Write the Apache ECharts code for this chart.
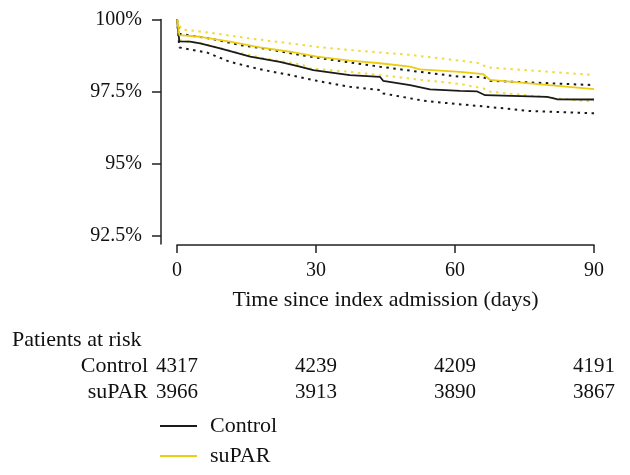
<!DOCTYPE html>
<html>
<head>
<meta charset="utf-8">
<script src="https://cdn.jsdelivr.net/npm/echarts@6/dist/echarts.min.js"></script>
<style>
  html, body { margin: 0; padding: 0; background: #fff; }
  #chart { width: 630px; height: 475px; }
</style>
</head>
<body>
<div id="chart"></div>
<script>
// Kaplan-Meier curves: [day, survival %]
const controlLine = [[0,100],[0.5,99.24],[2.8,99.23],[5,99.17],[9.3,99.0],[15.8,98.71],[22.2,98.53],[26.5,98.36],[29.4,98.24],[37.3,98.07],[43.8,98.01],[44.5,97.87],[50.3,97.72],[54.6,97.57],[61.1,97.52],[64.8,97.5],[66.5,97.37],[79.9,97.31],[82,97.23],[90,97.22]]
const controlLower = [[0,100],[0.5,99.03],[6.5,98.85],[11.4,98.53],[17.9,98.27],[24.4,98.07],[30.2,97.87],[37.3,97.66],[43.8,97.55],[44.5,97.43],[52.4,97.2],[55.3,97.14],[66.9,96.97],[76.2,96.82],[90,96.74]]
const controlUpper = [[0,100],[0.6,99.5],[7.1,99.34],[13.6,99.11],[20.1,98.96],[26.5,98.77],[30.4,98.67],[37.3,98.51],[43.8,98.36],[52.4,98.18],[61.1,98.01],[66.1,98.0],[67.6,97.87],[90,97.72]]
const suparLine = [[0,100],[0.5,99.46],[5,99.4],[11.4,99.23],[17.9,99.03],[24.4,98.88],[30.2,98.71],[37.3,98.57],[43.8,98.48],[50.3,98.36],[52.4,98.27],[61.1,98.18],[66.1,98.1],[67.6,97.9],[90,97.58]]
const suparUpper = [[0,100],[0.9,99.66],[7.1,99.54],[15.8,99.34],[24.4,99.17],[30.2,99.05],[37.3,98.94],[50.3,98.77],[61.1,98.57],[65.4,98.48],[66.9,98.34],[90,98.07]]
const suparLower = [[0,100],[0.5,99.28],[5,99.18],[11.9,98.9],[18.8,98.65],[27.2,98.42],[28.7,98.3],[37.3,98.18],[50.3,97.95],[61.1,97.76],[66.1,97.61],[67.6,97.49],[90,97.14]]

const yTicks = [92.5, 95, 97.5, 100]
const riskDays = [0, 30, 60, 90]
const controlAtRisk = [4317, 4239, 4209, 4191]
const suparAtRisk = [3966, 3913, 3890, 3867]

const FONT = '"Liberation Serif", "DejaVu Serif", serif'
const BLACK = '#1a1a1a'
const YELLOW = '#ebcd12'
const YELLOW_CI = '#f0da40'

const chart = echarts.init(document.getElementById('chart'))

function riskAxis(gridIndex, counts) {
  return {
    gridIndex,
    type: 'value',
    min: 0, max: 90, interval: 30,
    axisLine: { show: false },
    axisTick: { show: false },
    splitLine: { show: false },
    axisLabel: {
      margin: 0,
      verticalAlign: 'middle',
      fontFamily: FONT, fontSize: 21, color: '#111',
      formatter: (v) => counts[riskDays.indexOf(v)]
    }
  }
}

function curve(name, data, color, dotted) {
  return {
    name, type: 'line', data,
    showSymbol: false, symbol: 'none',
    silent: true,
    itemStyle: { color },
    lineStyle: dotted
      ? { color, width: 2, type: [2.5, 4.5] }
      : { color, width: 1.8 },
    z: dotted ? 2 : 3
  }
}

const option = {
  animation: false,
  grid: [
    { left: 177, right: 36, top: 19.5, bottom: 231 },
    { left: 177, right: 36, top: 365, height: 1 },
    { left: 177, right: 36, top: 391, height: 1 }
  ],
  xAxis: [
    {
      gridIndex: 0,
      type: 'value',
      min: 0, max: 90, interval: 30,
      offset: 1,
      name: 'Time since index admission (days)',
      nameLocation: 'middle',
      nameGap: 44,
      nameTextStyle: { fontFamily: FONT, fontSize: 22, color: '#111' },
      axisLine: { onZero: false, lineStyle: { color: '#222', width: 1.5 } },
      axisTick: { length: 8, lineStyle: { color: '#222', width: 1.5 } },
      axisLabel: { margin: 16, fontFamily: FONT, fontSize: 20, color: '#111' },
      splitLine: { show: false }
    },
    riskAxis(1, controlAtRisk),
    riskAxis(2, suparAtRisk)
  ],
  yAxis: [
    {
      gridIndex: 0,
      type: 'value',
      min: 92.2, max: 100,
      offset: 16,
      axisLine: { show: true, onZero: false, lineStyle: { color: '#222', width: 1.5 } },
      axisTick: { show: true, length: 9, customValues: yTicks, lineStyle: { color: '#222', width: 1.5 } },
      axisLabel: {
        margin: 19,
        customValues: yTicks,
        fontFamily: FONT, fontSize: 20, color: '#111',
        formatter: (v) => v + '%'
      },
      splitLine: { show: false }
    },
    { gridIndex: 1, show: false },
    { gridIndex: 2, show: false }
  ],
  legend: {
    data: [
      { name: 'Control', icon: 'rect' },
      { name: 'suPAR', icon: 'rect' }
    ],
    orient: 'vertical',
    left: 160, top: 415,
    padding: 0,
    itemWidth: 37, itemHeight: 2,
    itemGap: 8,
    selectedMode: false,
    textStyle: { fontFamily: FONT, fontSize: 22, color: '#111', lineHeight: 22, padding: [0, 0, 0, 8] }
  },
  graphic: [
    { type: 'text', left: 12, top: 329, style: { text: 'Patients at risk', font: '22px ' + FONT, fill: '#111' } },
    { type: 'text', x: 148, y: 366, style: { text: 'Control', font: '22px ' + FONT, fill: '#111', align: 'right', verticalAlign: 'middle' } },
    { type: 'text', x: 148, y: 392, style: { text: 'suPAR', font: '22px ' + FONT, fill: '#111', align: 'right', verticalAlign: 'middle' } }
  ],
  series: [
    curve('Control lower CI', controlLower, BLACK, true),
    curve('Control upper CI', controlUpper, BLACK, true),
    curve('suPAR lower CI', suparLower, YELLOW_CI, true),
    curve('suPAR upper CI', suparUpper, YELLOW_CI, true),
    curve('Control', controlLine, BLACK, false),
    curve('suPAR', suparLine, YELLOW, false)
  ]
}

chart.setOption(option)
</script>
</body>
</html>
